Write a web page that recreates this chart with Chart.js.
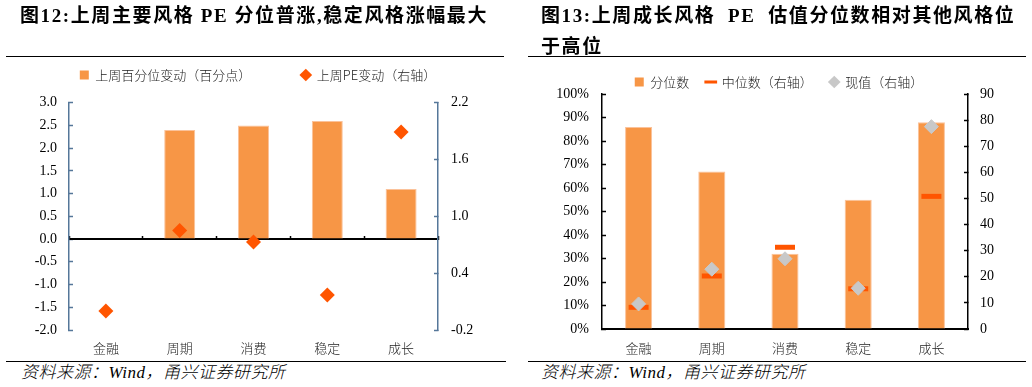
<!DOCTYPE html>
<html><head><meta charset="utf-8">
<script src="https://cdn.jsdelivr.net/npm/chart.js@4.4.1/dist/chart.umd.min.js"></script>
<style>
html,body{margin:0;padding:0;background:#fff;}
body{width:1032px;height:387px;position:relative;overflow:hidden;font-family:"Liberation Serif","Noto Sans CJK SC",serif;}
.title{position:absolute;font-weight:bold;font-size:19px;letter-spacing:1.6px;line-height:31px;color:#000;z-index:2;white-space:nowrap;}
.rule{position:absolute;height:0;border-top:1.5px solid #000;z-index:2;}
.src{position:absolute;font-style:italic;font-size:17px;line-height:20px;color:#000;z-index:2;white-space:nowrap;font-weight:300;letter-spacing:0.5px;}
.wrap{position:absolute;top:0;width:516px;height:360px;}
canvas{position:absolute;left:0;top:0;}
</style></head>
<body>
<div class="title" style="left:20px;top:0px">图12:上周主要风格 PE 分位普涨,稳定风格涨幅最大</div>
<div class="title" style="left:541px;top:0px">图13:上周成长风格&nbsp; PE&nbsp; 估值分位数相对其他风格位<br>于高位</div>
<div class="rule" style="left:6px;top:55.5px;width:498px"></div>
<div class="rule" style="left:528px;top:55.5px;width:498px"></div>
<div class="wrap" style="left:0px"><canvas id="c1" width="516" height="360"></canvas></div>
<div class="wrap" style="left:516px"><canvas id="c2" width="516" height="360"></canvas></div>
<div class="rule" style="left:6px;top:360.5px;width:500px"></div>
<div class="rule" style="left:528px;top:360.5px;width:498px"></div>
<div class="src" style="left:21px;top:363px">资料来源：Wind，甬兴证券研究所</div>
<div class="src" style="left:541px;top:363px">资料来源：Wind，甬兴证券研究所</div>
<script>
// ---- data ----
const categories = ['金融', '周期', '消费', '稳定', '成长'];
// Figure 12
const pctChange = [0, 2.4, 2.5, 2.6, 1.1];        // 上周百分位变动（百分点）
const peChange = [0.0, 0.85, 0.73, 0.17, 1.89];    // 上周PE变动（右轴）
// Figure 13
const quantile = [86, 67, 32, 55, 88];             // 分位数 (%)
const medianPE = [8.3, 20.3, 31.3, 15.4, 50.8];    // 中位数（右轴）
const currentPE = [9.6, 22.9, 26.9, 15.6, 77.5];   // 现值（右轴）

const SERIF = '"Liberation Serif", "Times New Roman", serif';
const CJK = '"Noto Sans CJK SC", sans-serif';
const ORANGE = '#f79646';
const RED = '#ff5500';
const GRAY = '#c8c8c8';
const AXC = '#557799';

Chart.defaults.font.family = CJK;
Chart.defaults.color = '#000';

function legendHeight(h) {
  return {
    id: 'legendH',
    beforeLayout(chart) {
      const lg = chart.legend;
      if (lg && !lg._fixedH) {
        const orig = lg.fit;
        lg.fit = function () { orig.call(this); this.height = h; };
        lg._fixedH = true;
      }
    }
  };
}

function legendOpts(pad) {
  return {
    display: true,
    position: 'top',
    labels: {
      usePointStyle: true,
      boxWidth: 9,
      boxHeight: 9,
      padding: pad,
      color: '#222',
      font: { family: CJK, size: 13, weight: 300 },
      sort: (a, b) => a.datasetIndex - b.datasetIndex,
      generateLabels(chart) {
        const items = Chart.defaults.plugins.legend.labels.generateLabels(chart);
        items.forEach(it => {
          const ds = chart.data.datasets[it.datasetIndex];
          it.pointStyle = ds.legendStyle;
          it.fillStyle = ds.legendColor;
          it.strokeStyle = ds.legendColor;
          it.lineWidth = ds.legendLine;
          it.rotation = 0;
        });
        return items;
      }
    }
  };
}

const tickFont = { family: SERIF, size: 14 };
const catFont = { family: CJK, size: 13, weight: 300 };

// ---- Figure 12 ----
new Chart(document.getElementById('c1'), {
  type: 'bar',
  data: {
    labels: categories,
    datasets: [
      {
        type: 'bar', label: '上周百分位变动（百分点）', data: pctChange,
        yAxisID: 'y', xAxisID: 'x',
        backgroundColor: ORANGE, borderColor: '#fbc29a', borderWidth: 1,
        barPercentage: 0.42, categoryPercentage: 1, order: 2,
        legendStyle: 'rect', legendColor: ORANGE, legendLine: 0
      },
      {
        type: 'line', label: '上周PE变动（右轴）', data: peChange,
        yAxisID: 'y1', xAxisID: 'x', showLine: false,
        pointStyle: 'rectRot', pointRadius: 7.5, pointHoverRadius: 7.5,
        pointBackgroundColor: RED, pointBorderColor: RED, pointBorderWidth: 0,
        order: 1,
        legendStyle: 'rectRot', legendColor: RED, legendLine: 0
      }
    ]
  },
  options: {
    responsive: false, animation: false, events: [],
    layout: { padding: { left: 0, right: 0, top: 18.5, bottom: 0 } },
    plugins: { legend: legendOpts(50), tooltip: { enabled: false } },
    scales: {
      x: {
        type: 'category', position: 'bottom', offset: true,
        grid: { display: false, drawTicks: false },
        border: { display: false },
        ticks: { padding: 10, font: catFont, color: '#222', maxRotation: 0, autoSkip: false },
        afterFit(s) { s.height = 30; }
      },
      x2: {
        type: 'category', position: { y: 0 }, offset: true, labels: categories,
        grid: { display: true, offset: true, drawOnChartArea: false, drawTicks: true, tickLength: -4, color: '#000', tickColor: '#000', tickWidth: 1.5 },
        border: { display: true, color: '#000', width: 2 },
        ticks: { display: false }
      },
      y: {
        position: 'left', min: -2, max: 3,
        ticks: { stepSize: 0.5, padding: 16, font: tickFont, color: '#000', callback: v => Number(v).toFixed(1) },
        grid: { drawOnChartArea: false, drawTicks: true, tickLength: -4, tickColor: AXC, tickWidth: 1.5 },
        border: { display: true, color: AXC, width: 1.5 },
        afterFit(s) { s.width = 69; }
      },
      y1: {
        position: 'right', min: -0.2, max: 2.2,
        ticks: { stepSize: 0.6, padding: 17, font: tickFont, color: '#000', callback: v => Number(v).toFixed(1) },
        grid: { drawOnChartArea: false, drawTicks: true, tickLength: -4, tickColor: AXC, tickWidth: 1.5 },
        border: { display: true, color: AXC, width: 1.5 },
        afterFit(s) { s.width = 78; }
      }
    }
  },
  plugins: [legendHeight(84.2)]
});

// ---- Figure 13 ----
new Chart(document.getElementById('c2'), {
  type: 'bar',
  data: {
    labels: categories,
    datasets: [
      {
        type: 'bar', label: '分位数', data: quantile,
        yAxisID: 'y', backgroundColor: ORANGE, borderColor: '#fbc29a', borderWidth: 1,
        barPercentage: 0.37, categoryPercentage: 1, order: 3,
        legendStyle: 'rect', legendColor: ORANGE, legendLine: 0
      },
      {
        type: 'line', label: '中位数（右轴）', data: medianPE,
        yAxisID: 'y1', showLine: false,
        pointStyle: 'line', pointRadius: 10, pointHoverRadius: 10,
        pointBorderColor: RED, pointBackgroundColor: RED, pointBorderWidth: 5,
        order: 2,
        legendStyle: 'line', legendColor: RED, legendLine: 3
      },
      {
        type: 'line', label: '现值（右轴）', data: currentPE,
        yAxisID: 'y1', showLine: false,
        pointStyle: 'rectRot', pointRadius: 7, pointHoverRadius: 7,
        pointBorderColor: GRAY, pointBackgroundColor: GRAY, pointBorderWidth: 1,
        order: 1,
        legendStyle: 'rectRot', legendColor: GRAY, legendLine: 0
      }
    ]
  },
  options: {
    responsive: false, animation: false, events: [],
    layout: { padding: { left: 10, right: 0, top: 58.5, bottom: 0 } },
    plugins: { legend: legendOpts(17), tooltip: { enabled: false } },
    scales: {
      x: {
        offset: true,
        grid: { display: true, offset: false, drawOnChartArea: false, drawTicks: true, tickLength: -4, tickColor: '#000', tickWidth: 1.5 },
        border: { display: true, color: '#000', width: 2 },
        ticks: { padding: 15, font: catFont, color: '#222', maxRotation: 0, autoSkip: false },
        afterFit(s) { s.height = 31; }
      },
      y: {
        position: 'left', min: 0, max: 100,
        ticks: { stepSize: 10, padding: 17, font: tickFont, color: '#000', callback: v => v + '%' },
        grid: { drawOnChartArea: false, drawTicks: true, tickLength: -4, tickColor: '#000', tickWidth: 1.5 },
        border: { display: true, color: '#000', width: 1.5 },
        afterFit(s) { s.width = 76; }
      },
      y1: {
        position: 'right', min: 0, max: 90,
        ticks: { stepSize: 10, padding: 16, font: tickFont, color: '#000' },
        grid: { drawOnChartArea: false, drawTicks: true, tickLength: -4, tickColor: '#000', tickWidth: 1.5 },
        border: { display: true, color: '#000', width: 1.5 },
        afterFit(s) { s.width = 64; }
      }
    }
  },
  plugins: [legendHeight(35.5)]
});
</script>
</body></html>
